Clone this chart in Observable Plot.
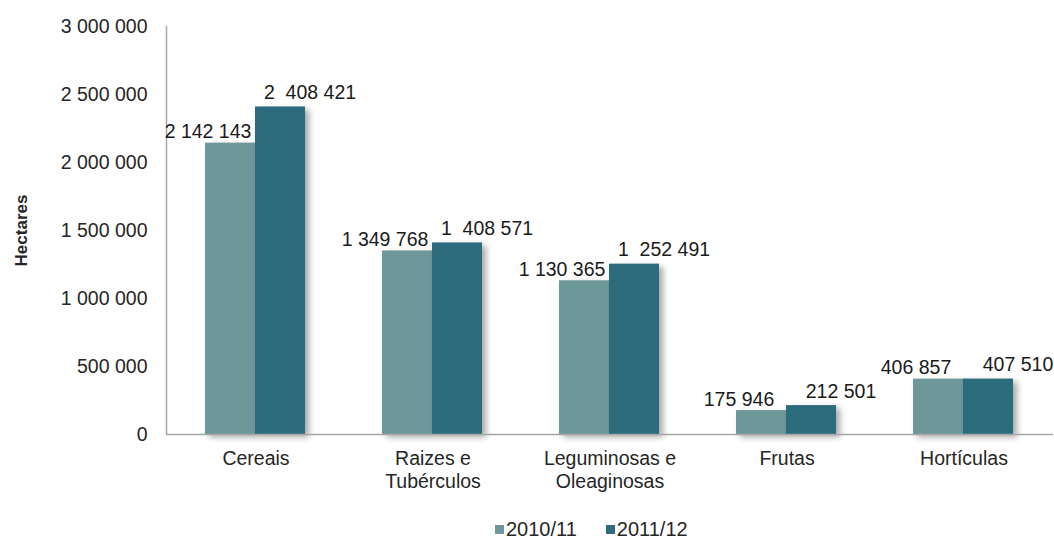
<!DOCTYPE html>
<html>
<head>
<meta charset="utf-8">
<script src="https://cdn.jsdelivr.net/npm/d3@7"></script>
<script src="https://cdn.jsdelivr.net/npm/@observablehq/plot@0.6"></script>
<style>
  html, body { margin: 0; padding: 0; background: #fff; }
  body { width: 1054px; height: 539px; overflow: hidden; font-family: "Liberation Sans", Arial, sans-serif; }
  #chart svg { display: block; }
  #chart [aria-label="bar"] rect { filter: drop-shadow(4px 3px 3px rgba(0,0,0,0.35)); }
  #chart [aria-label="y-axis label"] { font-weight: bold; font-size: 17px; }
  #chart [aria-label="text"] text { white-space: pre; }
  #legend { display: flex; align-items: center; padding-left: 495px; margin-top: 18px; font-size: 20px; color: #262626; }
  #legend .item { display: flex; align-items: center; margin-right: 29px; }
  #legend .sw { width: 9px; height: 9px; margin-right: 2px; }
</style>
</head>
<body>
<div id="chart"></div>
<div id="legend"></div>
<script>
const categories = ["Cereais", "Raizes e\nTubérculos", "Leguminosas e\nOleaginosas", "Frutas", "Hortículas"];
const series = ["2010/11", "2011/12"];
const values2010 = [2142143, 1349768, 1130365, 175946, 406857];
const values2011 = [2408421, 1408571, 1252491, 212501, 407510];
const labels2010 = ["2 142 143", "1 349 768", "1 130 365", "175 946", "406 857"];
const labels2011 = ["2  408 421", "1  408 571", "1  252 491", "212 501", "407 510"];
const yTicks = [0, 500000, 1000000, 1500000, 2000000, 2500000, 3000000];
const colors = ["#6D9799", "#2B6B7B"];

const fmt = d3.formatLocale({decimal: ",", thousands: " ", grouping: [3], currency: ["", ""]}).format(",d");

const d2010 = categories.map((c, i) => ({cat: c, series: series[0], value: values2010[i], label: labels2010[i]}));
const d2011 = categories.map((c, i) => ({cat: c, series: series[1], value: values2011[i], label: labels2011[i]}));

const plot = Plot.plot({
  width: 1054,
  height: 500,
  marginLeft: 166,
  marginRight: 1,
  marginTop: 26,
  marginBottom: 66,
  style: {fontFamily: "Liberation Sans, Arial, sans-serif", fontSize: "19.5px", color: "#262626", background: "#fff"},
  x: {domain: categories, padding: 0},
  y: {domain: [0, 3000000]},
  color: {domain: series, range: colors},
  marks: [
    Plot.barY(d2010, {x: "cat", y: "value", fill: "series", insetLeft: 38, insetRight: 89}),
    Plot.barY(d2011, {x: "cat", y: "value", fill: "series", insetLeft: 88, insetRight: 39}),
    Plot.ruleY([0], {stroke: "#a6a6a6", strokeWidth: 1.5}),
    Plot.frame({anchor: "left", stroke: "#a6a6a6", strokeWidth: 1.5}),
    Plot.text(d2010, {x: "cat", y: "value", text: "label", dx: -48, dy: -11, fill: "#1a1a1a", fontSize: 19.5}),
    Plot.text(d2011, {x: "cat", y: "value", text: "label", dx: 54, dy: -14, fill: "#1a1a1a", fontSize: 19.5}),
    Plot.axisY({ticks: yTicks, tickFormat: fmt, tickSize: 0, tickPadding: 19, label: "Hectares", labelAnchor: "center", labelArrow: false, labelOffset: 152, fill: "#262626"}),
    Plot.axisX({tickSize: 0, tickPadding: 15, label: null, lineHeight: 1.15, fill: "#262626"})
  ]
});
document.getElementById("chart").appendChild(plot);

const legend = document.getElementById("legend");
series.forEach((s, i) => {
  const item = document.createElement("div");
  item.className = "item";
  const sw = document.createElement("span");
  sw.className = "sw";
  sw.style.background = colors[i];
  const t = document.createElement("span");
  t.textContent = s;
  item.appendChild(sw);
  item.appendChild(t);
  legend.appendChild(item);
});
</script>
</body>
</html>
